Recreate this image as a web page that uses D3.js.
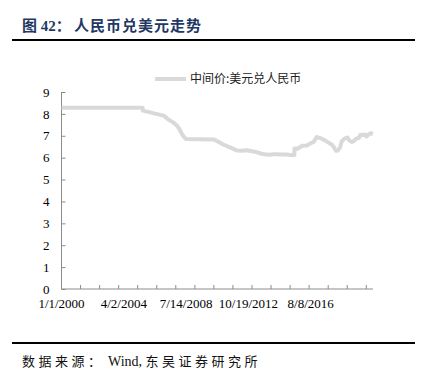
<!DOCTYPE html>
<html>
<head>
<meta charset="utf-8">
<style>
    body { margin: 0; background: #fff; }
    .axis path, .axis line { stroke: #8c8c8c; }
    .axis text { font: 13px "Liberation Serif", "Noto Sans CJK SC", serif; fill: #000; }
    .line { fill: none; stroke: #d9d9d9; stroke-width: 4px; stroke-linejoin: round; }
</style>
</head>
<body>
<div id="chart"></div>
<script src="https://cdn.jsdelivr.net/npm/d3@7/dist/d3.min.js"></script>
<script>

    // data: USD/CNY central parity
    const dates = [
        "2000-01-04", "2002-06-01", "2005-07-20", "2005-07-22", "2005-12-30",
        "2006-05-24", "2006-12-29", "2007-04-23", "2007-09-01", "2007-11-20",
        "2008-01-31", "2008-03-24", "2008-05-20", "2008-07-14", "2009-06-01",
        "2010-06-18", "2010-09-15", "2011-01-30", "2011-06-30", "2011-12-31",
        "2012-04-20", "2012-09-06", "2013-01-15", "2013-04-22", "2013-08-10",
        "2013-12-01", "2014-02-20", "2014-05-01", "2014-07-12", "2014-11-01",
        "2015-02-10", "2015-05-05", "2015-08-10", "2015-08-13", "2015-09-30",
        "2015-12-14", "2016-02-01", "2016-05-11", "2016-08-08", "2016-10-15",
        "2016-12-23", "2017-03-10", "2017-06-30", "2017-09-10", "2017-11-30",
        "2018-01-20", "2018-03-08", "2018-04-20", "2018-06-07", "2018-07-20",
        "2018-09-28", "2018-11-30", "2019-01-05", "2019-02-28", "2019-04-15",
        "2019-06-22", "2019-08-15", "2019-09-20", "2019-11-19", "2019-12-30",
        "2020-02-05", "2020-03-20", "2020-05-10", "2020-06-30"
    ];
    const values = [
        8.28, 8.28, 8.28, 8.15, 8.08,
        8.01, 7.92, 7.75, 7.60, 7.48,
        7.30, 7.10, 6.95, 6.85, 6.84,
        6.83, 6.74, 6.60, 6.48, 6.33,
        6.32, 6.34, 6.29, 6.25, 6.18,
        6.14, 6.13, 6.16, 6.16, 6.14,
        6.15, 6.12, 6.12, 6.42, 6.40,
        6.47, 6.55, 6.56, 6.66, 6.72,
        6.94, 6.90, 6.79, 6.70, 6.60,
        6.48, 6.32, 6.33, 6.45, 6.75,
        6.88, 6.92, 6.79, 6.72, 6.75,
        6.88, 6.90, 7.05, 7.03, 7.06,
        6.97, 7.05, 7.12, 7.08
    ];

    // category-axis labels (Excel style) and where the axis ends
    const labelDates = ["2000-01-01", "2004-04-02", "2008-07-14", "2012-10-19", "2016-08-08"];
    const labelText = ["1/1/2000", "4/2/2004", "7/14/2008", "10/19/2012", "8/8/2016"];
    const axisEnd = "2020-07-02";
    const catPerLabel = 1040, catPerTick = 318, catTotal = 5200;

    const seriesName = "中间价:美元兑人民币";
    const titleNo = "图 42：", titleText = "人民币兑美元走势";
    const sourceParts = ["数据来源：", "\u00a0Wind,\u00a0", "东吴证券研究所"];

    const W = 422, H = 375;
    const margin = { top: 92, left: 61.5, right: 49, bottom: 86 };
    const width = W - margin.left - margin.right;
    const height = H - margin.top - margin.bottom;

    const svg = d3.select("#chart").append("svg")
        .attr("width", W).attr("height", H);

    // header
    const t = svg.append("text")
        .attr("y", 31)
        .style("font", "bold 15px 'Liberation Serif', 'Noto Sans CJK SC', serif")
        .attr("fill", "#1f3864");
    t.append("tspan").attr("x", 22).text(titleNo);
    t.append("tspan").attr("x", 74).attr("letter-spacing", 1).text(titleText);
    svg.append("line")
        .attr("x1", 12).attr("x2", 415).attr("y1", 40).attr("y2", 40)
        .attr("stroke", "#000").attr("stroke-width", 2);

    // footer
    svg.append("line")
        .attr("x1", 12).attr("x2", 415).attr("y1", 343).attr("y2", 343)
        .attr("stroke", "#000").attr("stroke-width", 2);
    const s = svg.append("text")
        .attr("x", 22).attr("y", 366)
        .style("font", "13px 'Liberation Serif', 'Noto Sans CJK SC', serif")
        .attr("fill", "#111");
    s.append("tspan").attr("letter-spacing", 3.5).text(sourceParts[0]);
    s.append("tspan").style("font-size", "14px").text(sourceParts[1]);
    s.append("tspan").attr("letter-spacing", 3.5).text(sourceParts[2]);

    const g = svg.append("g").attr("transform", "translate(" + margin.left + "," + margin.top + ")");

    const parse = d3.utcParse("%Y-%m-%d");

    // index of category (trading day) for a date: piecewise between labelled dates
    const catIndex = d3.scaleUtc()
        .domain(labelDates.concat([axisEnd]).map(parse))
        .range(d3.range(labelDates.length).map(i => i * catPerLabel).concat([catTotal]));

    const xc = d3.scaleLinear().domain([0, catTotal]).range([0, width]);
    const x = d => xc(catIndex(d));
    const y = d3.scaleLinear().domain([0, 9]).range([height, 0]);

    const data = dates.map((d, i) => ({ date: parse(d), value: values[i] }));

    // x axis: inside ticks, labels every catPerLabel categories
    const xAxis = g.append("g")
        .attr("class", "axis")
        .attr("transform", "translate(0," + height + ")");
    xAxis.append("line").attr("x1", 0).attr("x2", width).attr("stroke", "#8c8c8c");
    xAxis.selectAll(".tick")
        .data(d3.range(0, catTotal, catPerTick))
        .enter().append("line")
        .attr("x1", d => xc(d)).attr("x2", d => xc(d))
        .attr("y1", 0).attr("y2", -4)
        .attr("stroke", "#8c8c8c");
    xAxis.selectAll("text")
        .data(labelText)
        .enter().append("text")
        .attr("x", (d, i) => xc(i * catPerLabel))
        .attr("y", 18.5)
        .attr("text-anchor", "middle")
        .text(d => d);

    // y axis
    g.append("g")
        .attr("class", "axis")
        .call(d3.axisLeft(y).ticks(9).tickSize(-4).tickPadding(12).tickSizeOuter(0))
        .call(a => a.select(".domain").attr("d", "M0," + height + "V0"));

    g.append("path")
        .datum(data)
        .attr("class", "line")
        .attr("d", d3.line().x(d => x(d.date)).y(d => y(d.value)));

    // legend
    const lg = svg.append("g").attr("transform", "translate(155,79)");
    lg.append("line").attr("x1", 0).attr("x2", 31).attr("stroke", "#d9d9d9").attr("stroke-width", 4);
    lg.append("text")
        .attr("x", 35).attr("dy", "0.35em")
        .style("font", "12px 'Noto Sans CJK SC', sans-serif")
        .attr("fill", "#222")
        .text(seriesName);

</script>
</body>
</html>
